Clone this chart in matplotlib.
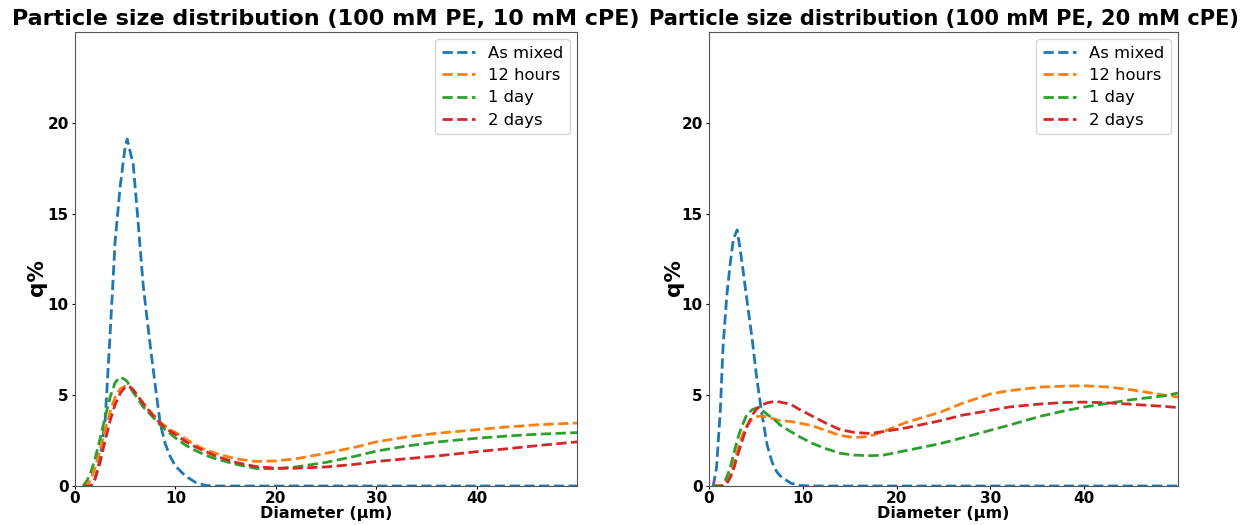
import matplotlib
matplotlib.use("Agg")
import matplotlib.pyplot as plt

labels = ["As mixed", "12 hours", "1 day", "2 days"]
colors = ["#1f77b4", "#ff7f0e", "#2ca02c", "#d62728"]

title_left = "Particle size distribution (100 mM PE, 10 mM cPE)"
title_right = "Particle size distribution (100 mM PE, 20 mM cPE)"

# Left panel (10 mM cPE)
x_left = [0.8, 1.2, 1.6, 2.0, 2.5, 3.0, 3.5, 4.0, 4.5, 5.0, 5.2, 5.5, 5.8, 6.2, 6.8, 7.5, 8.0, 8.5, 9.0, 9.5,
          10, 11, 12, 13, 14, 16, 18, 20, 22, 25, 28, 30, 33, 36, 40, 43, 46, 50]
left_mixed = [0, 0, 0, 0.4, 1.5, 3.6, 8.4, 13.5, 16.5, 18.7, 19.1, 18.4, 17.7, 15.1, 11.0, 7.7, 5.5, 3.4, 2.3, 1.6,
              1.1, 0.55, 0.2, 0.03, 0, 0, 0, 0, 0, 0, 0, 0, 0, 0, 0, 0, 0, 0]
left_12h = [0, 0, 0.4, 1.0, 2.0, 3.1, 4.1, 4.9, 5.35, 5.5, 5.5, 5.4, 5.25, 4.95, 4.55, 4.1, 3.8, 3.5, 3.3, 3.1,
            2.95, 2.6, 2.25, 2.0, 1.8, 1.5, 1.35, 1.38, 1.5, 1.8, 2.15, 2.43, 2.7, 2.9, 3.1, 3.25, 3.37, 3.47]
left_1d = [0, 0.3, 0.8, 1.5, 2.6, 3.8, 4.9, 5.7, 6.0, 5.85, 5.75, 5.45, 5.15, 4.85, 4.35, 3.95, 3.65, 3.35, 3.1, 2.88,
           2.65, 2.25, 1.95, 1.7, 1.5, 1.2, 0.97, 0.95, 1.05, 1.3, 1.65, 1.92, 2.2, 2.42, 2.63, 2.75, 2.85, 2.94]
left_2d = [0, 0, 0, 0.4, 1.3, 2.5, 3.6, 4.5, 5.1, 5.45, 5.5, 5.45, 5.3, 5.0, 4.55, 4.05, 3.75, 3.45, 3.2, 3.0,
           2.85, 2.45, 2.15, 1.9, 1.65, 1.3, 1.07, 0.98, 0.98, 1.05, 1.2, 1.35, 1.5, 1.65, 1.89, 2.05, 2.22, 2.43]

# Right panel (20 mM cPE)
x_right = [0.45, 0.8, 1.2, 1.5, 1.9, 2.25, 2.6, 3.0, 3.3, 3.6, 4.0, 4.6, 5.1, 5.6, 6.2, 6.7, 7.2, 7.6, 8.7, 9.7,
           11, 12.5, 14, 15.5, 17.2, 18.6, 21, 24.7, 27, 30, 32, 35.4, 38, 40, 42.5, 45, 48.6, 50]
right_mixed = [0, 1.0, 4.1, 7.7, 10.5, 12.2, 13.6, 14.1, 13.1, 12.0, 10.4, 8.1, 5.9, 4.1, 2.25, 1.35, 0.8, 0.55, 0.16, 0.03,
               0, 0, 0, 0, 0, 0, 0, 0, 0, 0, 0, 0, 0, 0, 0, 0, 0, 0]
right_12h = [0, 0, 0, 0, 0.25, 0.6, 1.2, 1.9, 2.4, 2.85, 3.3, 3.7, 3.82, 3.85, 3.8, 3.72, 3.65, 3.6, 3.55, 3.46,
             3.32, 3.05, 2.78, 2.66, 2.75, 3.0, 3.5, 4.07, 4.55, 5.07, 5.25, 5.45, 5.5, 5.52, 5.45, 5.3, 5.0, 4.9]
right_1d = [0, 0, 0, 0.05, 0.5, 1.0, 1.7, 2.5, 3.0, 3.4, 3.9, 4.2, 4.3, 4.2, 3.95, 3.75, 3.55, 3.35, 3.0, 2.7,
            2.35, 2.05, 1.8, 1.7, 1.67, 1.7, 1.95, 2.34, 2.65, 3.07, 3.35, 3.85, 4.15, 4.35, 4.55, 4.75, 4.97, 5.12]
right_2d = [0, 0, 0, 0, 0.15, 0.45, 0.9, 1.6, 2.1, 2.6, 3.2, 3.9, 4.25, 4.45, 4.58, 4.63, 4.65, 4.62, 4.5, 4.2,
            3.85, 3.45, 3.1, 2.95, 2.89, 3.0, 3.2, 3.6, 3.9, 4.16, 4.35, 4.52, 4.6, 4.62, 4.58, 4.5, 4.38, 4.32]

yticks = [0, 5, 10, 15, 20]
xticks = [0, 10, 20, 30, 40]

fig = plt.figure(figsize=(12.42, 5.25), dpi=100)
ax1 = fig.add_axes([75 / 1242, 39 / 525, 502 / 1242, 454 / 525])
ax2 = fig.add_axes([709 / 1242, 39 / 525, 469 / 1242, 454 / 525])

panels = [
    (ax1, x_left, [left_mixed, left_12h, left_1d, left_2d], title_left, 16, -0.056),
    (ax2, x_right, [right_mixed, right_12h, right_1d, right_2d], title_right, 15.1, -0.053),
]

for ax, x, series, title, tsize, ylx in panels:
    for ys, lab, col in zip(series, labels, colors):
        ax.plot(x, ys, linestyle="--", linewidth=2, color=col, label=lab)
    ax.set_xlim(0, 50)
    ax.set_ylim(0, 25)
    ax.set_xticks(xticks)
    ax.set_yticks(yticks)
    ax.set_title(title, fontsize=tsize, fontweight="bold", pad=5)
    ax.set_xlabel("Diameter (µm)", fontsize=11.5, fontweight="bold", labelpad=0)
    ax.set_ylabel("q%", fontsize=15.5, fontweight="bold")
    ax.yaxis.set_label_coords(ylx, 0.46)
    ax.tick_params(length=2.5, pad=2)
    ax.tick_params(axis="x", pad=1)
    for lbl in ax.get_xticklabels() + ax.get_yticklabels():
        lbl.set_fontweight("bold")
        lbl.set_fontsize(11)
    for sp in ax.spines.values():
        sp.set_color("#555555")
    ax.legend(loc="upper right", fontsize=11.8, labelspacing=0.44, borderaxespad=0.45)

fig.savefig("out.png", dpi=100)
